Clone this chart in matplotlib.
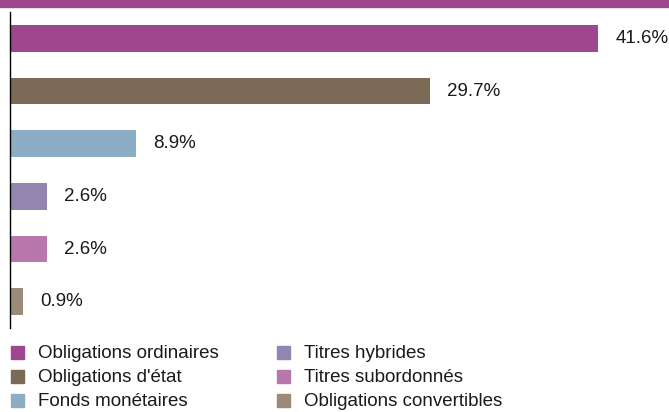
import matplotlib.pyplot as plt
from matplotlib.patches import Rectangle

plt.rcParams['font.family'] = ['Liberation Sans', 'DejaVu Sans']

categories = [
    "Obligations ordinaires",
    "Obligations d'état",
    "Fonds monétaires",
    "Titres hybrides",
    "Titres subordonnés",
    "Obligations convertibles",
]
values = [41.6, 29.7, 8.9, 2.6, 2.6, 0.9]
colors = ["#9e478f", "#7a6a56", "#8dadc5", "#9285b0", "#b878ad", "#9a8a78"]

W, H = 669, 412
fig = plt.figure(figsize=(W / 100, H / 100), dpi=100)

# band across the top
fig.patches.append(Rectangle((0, 1 - 7 / H), 1, 7 / H, transform=fig.transFigure,
                             color=colors[0], zorder=0))

ax = fig.add_axes([10 / W, 1 - 328 / H, 659 / W, 316 / H])
pos = list(range(len(values)))
ax.barh(pos, values, height=0.51, color=colors)
for p, v in zip(pos, values):
    ax.annotate(f"{v}%", (v, p), xytext=(12.5, 0), textcoords="offset points",
                va="center", ha="left", fontsize=13.5, color="#1a1a1a")

ax.set_xlim(0, 659 / 14.13)
ax.set_ylim(5.5, -0.5)
for s in ["top", "right", "bottom"]:
    ax.spines[s].set_visible(False)
ax.spines["left"].set_linewidth(1.0)
ax.set_xticks([])
ax.set_yticks([])

# legend in two columns of three, drawn in pixel units
for i, (c, lab) in enumerate(zip(colors, categories)):
    col, row = divmod(i, 3)
    x0 = 11 + col * 266
    yc = 352 + row * 24
    fig.patches.append(Rectangle((x0 / W, 1 - (yc + 6.5) / H), 13 / W, 13 / H,
                                 transform=fig.transFigure, color=c))
    fig.text((x0 + 27) / W, 1 - yc / H, lab, fontsize=13.5, va="center_baseline",
             ha="left", color="#1a1a1a")

fig.savefig("out.png", dpi=100)
